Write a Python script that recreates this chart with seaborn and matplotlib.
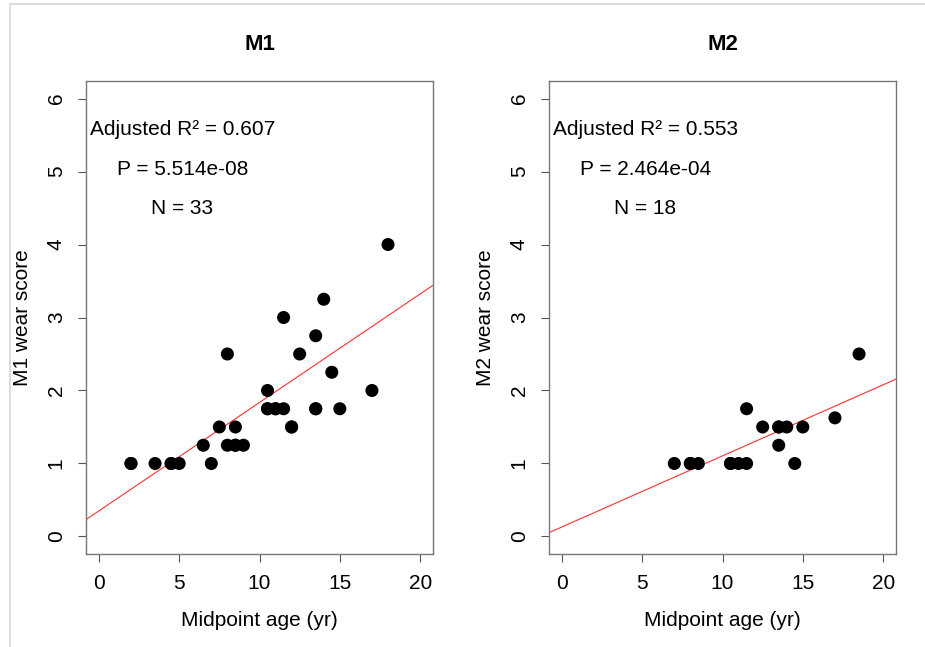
import matplotlib
matplotlib.use("Agg")
import matplotlib.pyplot as plt
from matplotlib.lines import Line2D
import numpy as np
import pandas as pd
import seaborn as sns

# M1: midpoint age (yr) and wear score
m1_age = [2, 2, 3.5, 4.5, 4.5, 5, 6.5, 7, 7.5, 8, 8, 8.5, 8.5, 8.5, 9,
          10.5, 10.5, 10.5, 11, 11, 11.5, 11.5, 12, 12, 12.5, 13.5, 13.5,
          13.5, 14, 14.5, 15, 17, 18]
m1_wear = [1, 1, 1, 1, 1, 1, 1.25, 1, 1.5, 2.5, 1.25, 1.5, 1.25, 1.25, 1.25,
           2, 1.75, 1.75, 1.75, 1.75, 1.75, 3, 1.5, 1.5, 2.5, 2.75, 1.75,
           1.75, 3.25, 2.25, 1.75, 2, 4]

# M2: midpoint age (yr) and wear score
m2_age = [7, 8, 8, 8.5, 10.5, 10.5, 11, 11.5, 11.5, 12.5, 13.5, 13.5, 13.5,
          14, 14.5, 15, 17, 18.5]
m2_wear = [1, 1, 1, 1, 1, 1, 1, 1, 1.75, 1.5, 1.5, 1.5, 1.25,
           1.5, 1, 1.5, 1.625, 2.5]

# fitted linear models (intercept, slope)
m1_fit = (0.35, 0.1486)
m2_fit = (0.13, 0.0974)

m1_stats = ["Adjusted R\u00b2 = 0.607", "P = 5.514e-08", "N = 33"]
m2_stats = ["Adjusted R\u00b2 = 0.553", "P = 2.464e-04", "N = 18"]

x_ticks = [0, 5, 10, 15, 20]
y_ticks = [0, 1, 2, 3, 4, 5, 6]

sns.set_theme(style="white")
plt.rcParams["font.family"] = ["Liberation Sans", "DejaVu Sans"]
plt.rcParams["text.color"] = "black"
plt.rcParams["axes.labelcolor"] = "black"

fig = plt.figure(figsize=(9.25, 6.47), dpi=100)
fig.patch.set_facecolor("white")

W, H = 925, 647
FS = 15
panels = [
    ("M1", m1_age, m1_wear, m1_fit, m1_stats, 86),
    ("M2", m2_age, m2_wear, m2_fit, m2_stats, 549),
]

for name, age, wear, fit, stats, left_px in panels:
    ax = fig.add_axes([left_px / W, 1 - 554 / H, 347 / W, 473 / H])
    df = pd.DataFrame({"age": age, "wear": wear})
    sns.scatterplot(data=df, x="age", y="wear", ax=ax, color="black",
                    s=88, linewidth=0, edgecolor="none", zorder=3)
    ax.axline((0, fit[0]), slope=fit[1], color="#ff3030", lw=0.8, zorder=2)
    ax.set_xlim(-0.8, 20.8)
    ax.set_ylim(-0.24, 6.24)
    ax.set_xticks(x_ticks)
    ax.set_yticks(y_ticks)
    ax.set_xticklabels([str(t) for t in x_ticks])
    ax.set_yticklabels([str(t) for t in y_ticks], rotation=90, va="center")
    ax.tick_params(axis="both", direction="out", length=5.5, width=0.8,
                   color="#555555", labelsize=FS, labelcolor="black",
                   bottom=True, left=True)
    ax.tick_params(axis="x", pad=9)
    ax.tick_params(axis="y", pad=9)
    for sp in ax.spines.values():
        sp.set_color("#777777")
        sp.set_linewidth(1.0)
    ax.set_xlabel("Midpoint age (yr)", fontsize=FS, labelpad=13)
    ax.set_ylabel(f"{name} wear score", fontsize=FS, labelpad=11)
    ax.set_title(name, fontsize=16, fontweight="bold", pad=22)
    for txt, yv in zip(stats, [5.57, 5.03, 4.5]):
        ax.text(5.2, yv, txt, ha="center", va="center", fontsize=FS)

# light frame along the top and left edges
fig.add_artist(Line2D([10 / W, 1], [1 - 4 / H, 1 - 4 / H],
                      transform=fig.transFigure, color="#dddddd", lw=1.5))
fig.add_artist(Line2D([10 / W, 10 / W], [0, 1 - 4 / H],
                      transform=fig.transFigure, color="#dddddd", lw=1.5))

fig.savefig("out.png", dpi=100)
